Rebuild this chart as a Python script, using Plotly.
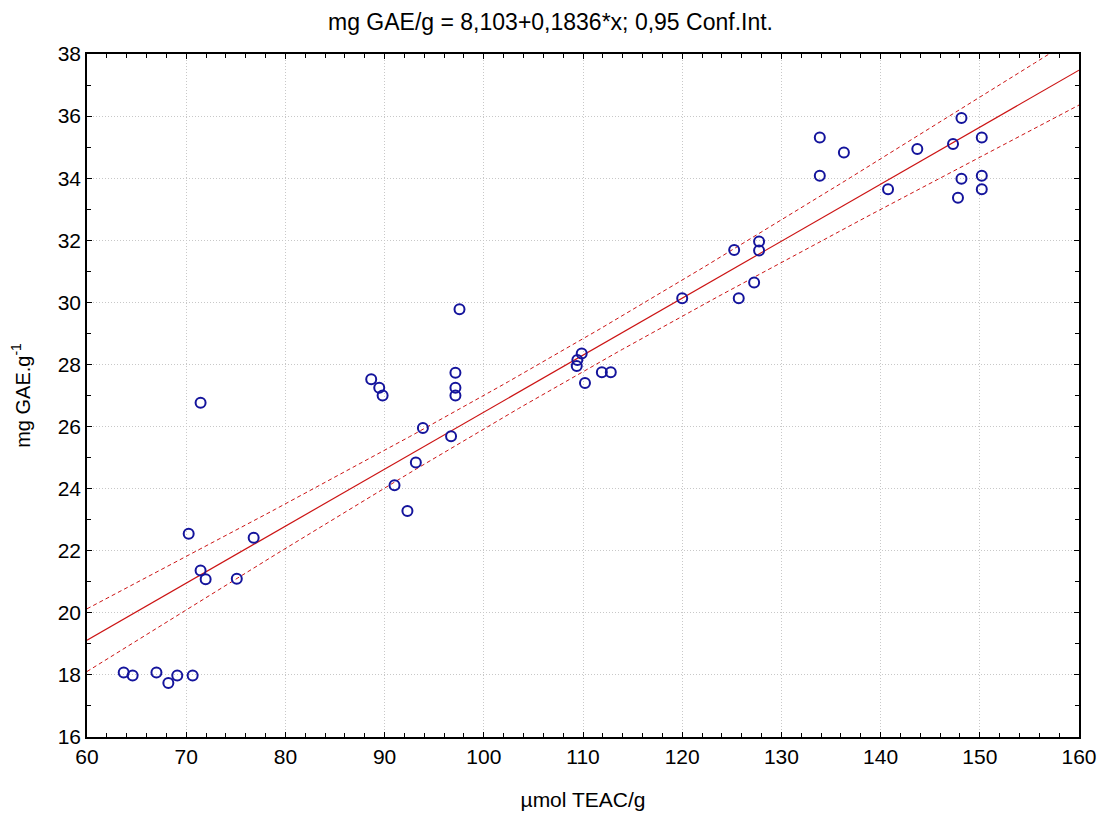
import numpy as np
import plotly.graph_objects as go

# Data points (µmol TEAC/g, mg GAE/g)
teac = [63.7, 64.6, 67.0, 68.2, 69.1, 70.65,
        71.45, 70.25, 76.8, 71.45, 71.96, 75.1,
        97.55, 88.65, 89.46, 89.8, 97.14, 97.14, 97.14, 93.86, 96.7, 93.15, 91.0, 92.3,
        109.87, 109.43, 109.37, 110.2, 111.9, 112.8,
        120.0, 125.24, 127.75, 127.75, 127.25, 125.7,
        133.87, 133.87, 136.3, 140.75, 143.7, 147.3, 148.15, 148.15, 147.8, 150.2, 150.2, 150.2]
gae = [18.08, 17.98, 18.08, 17.74, 17.98, 17.98,
       26.77, 22.55, 22.42, 21.36, 21.08, 21.10,
       29.78, 27.52, 27.25, 27.0, 27.73, 27.25, 27.0, 25.95, 25.69, 24.84, 24.11, 23.28,
       28.35, 28.14, 27.95, 27.4, 27.75, 27.75,
       30.13, 31.69, 31.96, 31.67, 30.64, 30.13,
       35.31, 34.08, 34.83, 33.64, 34.94, 35.1, 35.94, 33.98, 33.37, 35.31, 34.08, 33.64]

# Regression coefficients stated in the title
intercept = 8.103
slope = 0.1836
t_crit = 2.013  # t(0.975, n-2) for n = 48

x_ticks = [60, 70, 80, 90, 100, 110, 120, 130, 140, 150, 160]
y_ticks = [16, 18, 20, 22, 24, 26, 28, 30, 32, 34, 36, 38]

x = np.array(teac)
y = np.array(gae)
n = len(x)
resid = y - (intercept + slope * x)
s = np.sqrt(np.sum(resid ** 2) / (n - 2))
xbar = x.mean()
sxx = np.sum((x - xbar) ** 2)

xg = np.linspace(60, 160, 201)
yfit = intercept + slope * xg
half = t_crit * s * np.sqrt(1.0 / n + (xg - xbar) ** 2 / sxx)

red = "#cc1414"
fig = go.Figure()
fig.add_trace(go.Scatter(x=xg, y=yfit + half, mode="lines",
                         line=dict(color=red, width=1, dash="4px,3px"), hoverinfo="skip"))
fig.add_trace(go.Scatter(x=xg, y=yfit - half, mode="lines",
                         line=dict(color=red, width=1, dash="4px,3px"), hoverinfo="skip"))
fig.add_trace(go.Scatter(x=xg, y=yfit, mode="lines",
                         line=dict(color=red, width=1.2), hoverinfo="skip"))
fig.add_trace(go.Scatter(x=teac, y=gae, mode="markers",
                         marker=dict(symbol="circle-open", size=10, color="#14149c",
                                     line=dict(width=2, color="#14149c"))))

axis_common = dict(
    showline=True, linecolor="black", linewidth=1.5, mirror="ticks",
    ticks="inside", ticklen=5, tickcolor="black",
    showgrid=True, gridcolor="#c8c8c8", griddash="1px,2px", gridwidth=1,
    zeroline=False, ticklabeloverflow="allow", automargin=False,
    tickfont=dict(family="Liberation Sans, Arial", size=21, color="black"),
)

fig.update_layout(
    width=1101, height=813,
    margin=dict(l=87, r=22, t=54, b=76),
    plot_bgcolor="white", paper_bgcolor="white",
    showlegend=False,
    font=dict(family="Liberation Sans, Arial", color="black"),
    title=dict(text="mg GAE/g = 8,103+0,1836*x; 0,95 Conf.Int.",
               x=0.5, xref="container", xanchor="center", y=0.9736, yanchor="middle",
               font=dict(size=23, family="Liberation Sans, Arial", color="black")),
    xaxis=dict(range=[60, 160], tickvals=x_ticks,
               minor=dict(dtick=2, ticks="inside", ticklen=4, tickcolor="black", showgrid=False),
               title=dict(text="µmol TEAC/g", font=dict(size=21), standoff=25),
               **axis_common),
    yaxis=dict(range=[16, 38], tickvals=y_ticks,
               minor=dict(dtick=1, ticks="inside", ticklen=4, tickcolor="black", showgrid=False),
               title=dict(text="mg GAE.g<sup>-1</sup>", font=dict(size=20), standoff=22),
               **axis_common),
)

fig.write_html("out.html", config={"displayModeBar": False},
               post_script="document.body.style.margin='0';")
